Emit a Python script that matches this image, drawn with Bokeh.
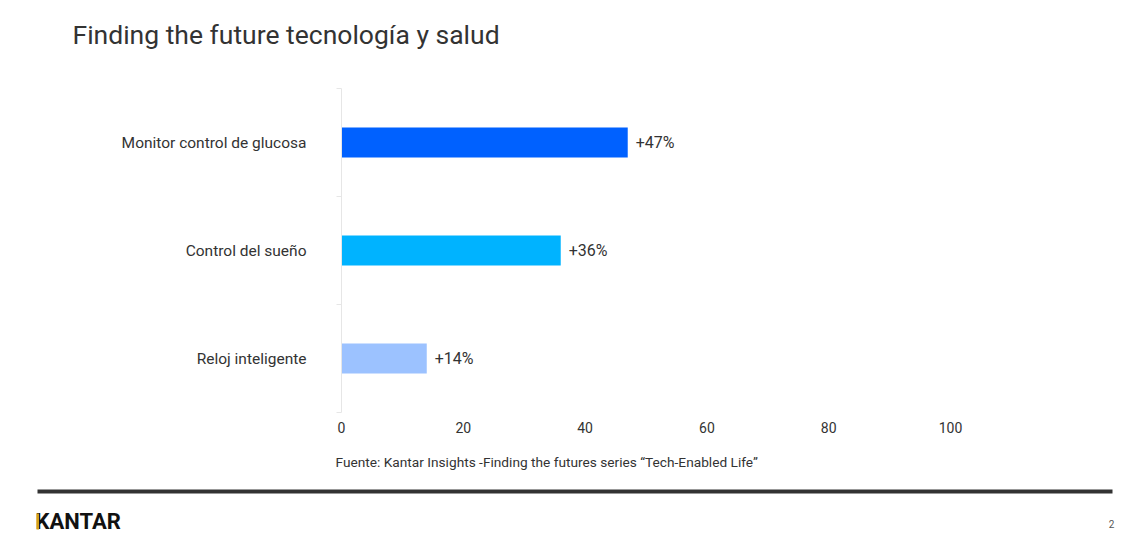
from bokeh.plotting import figure
from bokeh.layouts import column
from bokeh.models import ColumnDataSource, Range1d, FixedTicker, Label, LabelSet, BoxAnnotation
from bokeh.core.properties import value
from bokeh.embed import file_html
from bokeh.resources import INLINE

title_text = "Finding the future tecnología y salud"
categories = ["Monitor control de glucosa", "Control del sueño", "Reloj inteligente"]
values = [47, 36, 14]
colors = ["#0061ff", "#00b3ff", "#9cc2ff"]
x_ticks = [0, 20, 40, 60, 80, 100]
source_note = "Fuente: Kantar Insights -Finding the futures series \u201cTech-Enabled Life\u201d"
brand = "KANTAR"
page_number = "2"

W = 1140
HEAD_H, CHART_H, FOOT_H = 70, 375, 105
TXT = "#333333"
FONT = "Roboto"


def blank(h):
    f = figure(width=W, height=h, x_range=Range1d(0, W), y_range=Range1d(h, 0),
               output_backend="svg", toolbar_location=None,
               x_axis_location=None, y_axis_location=None,
               min_border=0, frame_align=False)
    f.outline_line_color = None
    f.grid.visible = False
    f.background_fill_color = "white"
    f.border_fill_color = "white"
    return f


def lab(f, x, y, text, size, color=TXT, style="normal", align="left"):
    f.add_layout(Label(x=x, y=y, text=text, text_font=FONT, text_font_size=size,
                       text_color=color, text_font_style=style, text_align=align,
                       text_baseline="middle"))


# header
head = blank(HEAD_H)
lab(head, 72, 34, title_text, "26.5px", color="#333333")

# chart
n = len(categories)
ypos = [n - i - 0.5 for i in range(n)]
src = ColumnDataSource(dict(
    y=ypos, value=values, color=colors,
    label=[f"+{v}%" for v in values],
))

p = figure(width=W, height=CHART_H, x_range=Range1d(0, 100), y_range=Range1d(0, n),
           output_backend="svg", toolbar_location=None, frame_align=False,
           min_border_left=341, min_border_right=W - 950,
           min_border_top=18, min_border_bottom=33)
p.outline_line_color = None
p.xgrid.visible = False
p.ygrid.visible = False
p.background_fill_color = "white"
p.border_fill_color = "white"

p.hbar(y="y", right="value", left=0, height=0.28, color="color", line_color=None, source=src)
p.add_layout(LabelSet(x="value", y="y", text="label", source=src, x_offset=8,
                      text_baseline="middle", text_font=value(FONT), text_font_size=value("16px"),
                      text_color=TXT))

xa = p.xaxis[0]
xa.ticker = FixedTicker(ticks=x_ticks)
xa.axis_line_color = None
xa.major_tick_line_color = None
xa.minor_tick_line_color = None
xa.major_label_text_font = FONT
xa.major_label_text_font_size = "14px"
xa.major_label_text_color = TXT
xa.major_label_standoff = 3

ya = p.yaxis[0]
ya.ticker = FixedTicker(ticks=ypos, minor_ticks=list(range(n + 1)))
ya.major_label_overrides = {y: c for y, c in zip(ypos, categories)}
ya.axis_line_color = "#e6e6e6"
ya.major_tick_line_color = None
ya.minor_tick_line_color = "#e6e6e6"
ya.minor_tick_out = 5
ya.minor_tick_in = 0
ya.major_label_text_font = FONT
ya.major_label_text_font_size = "15.5px"
ya.major_label_text_color = TXT
ya.major_label_standoff = 29

# footer
foot = blank(FOOT_H)
lab(foot, 335, 16, source_note, "13.7px")
foot.add_layout(BoxAnnotation(left=37, right=1112, top=44, bottom=48,
                              fill_color="#333333", fill_alpha=1, line_color=None))
lab(foot, 35, 76, brand, "22px", color="#111111", style="bold")
foot.add_layout(BoxAnnotation(left=36, right=38.5, top=68, bottom=84,
                              fill_color="#d4a017", fill_alpha=1, line_color=None))
lab(foot, 1111, 78, page_number, "10px", color="#555555", align="center")

layout = column(head, p, foot, spacing=0)
open("out.html", "w").write(file_html(layout, INLINE))
